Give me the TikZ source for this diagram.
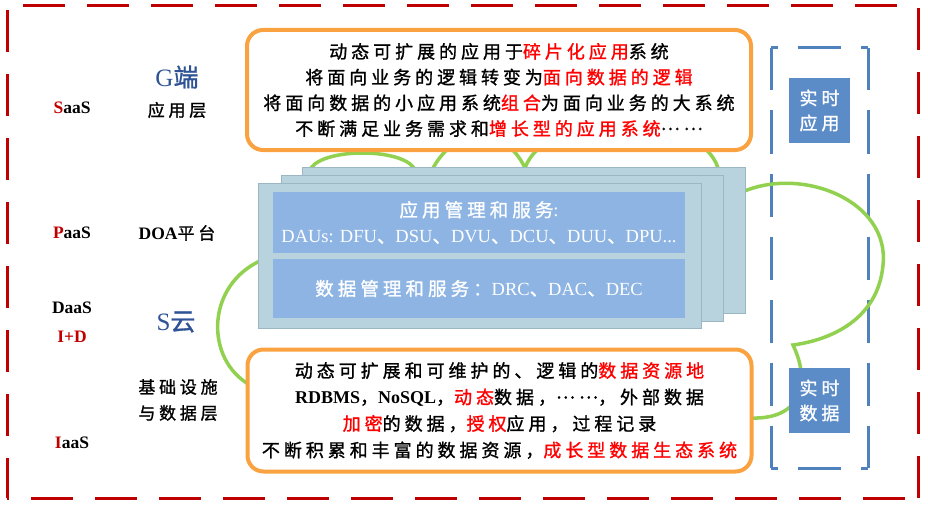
\documentclass[tikz,border=0pt]{standalone}
\usepackage{fontspec}
\setmainfont{Liberation Serif}
\newfontfamily\cjk[LetterSpace=22,FakeBold=1.2]{Noto Sans CJK SC}
\newfontfamily\cjkn[FakeBold=1.2]{Noto Sans CJK SC}
\definecolor{frameRed}{HTML}{C00000}
\definecolor{orangeB}{HTML}{F9A23F}
\definecolor{cloudG}{HTML}{92D050}
\definecolor{stackF}{HTML}{B8D2DE}
\definecolor{stackD}{HTML}{9BB7C4}
\definecolor{innerB}{HTML}{8DB4E3}
\definecolor{panelB}{HTML}{4F81BD}
\definecolor{rtBox}{HTML}{5B8CC8}
\definecolor{titleB}{HTML}{2F5496}
\definecolor{hlred}{HTML}{FF0000}
\newcommand{\redtx}[1]{\textcolor{hlred}{#1}}
\newcommand{\latn}[1]{{\rmfamily\bfseries #1}}
\newcommand{\midell}{\raisebox{0.3em}{……}}
\tikzset{
  reddash/.style={draw=frameRed, line width=3pt, dash pattern=on 42pt off 22pt},
  bluedash/.style={draw=panelB, line width=3pt, dash pattern=on 43pt off 20pt},
  cloud/.style={draw=cloudG, line width=3.5pt},
  obox/.style={draw=orangeB, line width=4pt, rounded corners=16pt, fill=white,
    minimum width=504pt, inner sep=0pt, align=center,
    font=\cjk\fontsize{18}{25.7}\selectfont},
  stackbox/.style={fill=stackF, draw=stackD, line width=1pt, inner sep=0pt},
  innerbox/.style={fill=innerB, inner sep=0pt, text=white, align=center,
    minimum width=412pt},
  rtbox/.style={fill=rtBox, text=white, minimum width=61pt, minimum height=65pt,
    inner sep=0pt, align=center, font=\cjk\fontsize{18}{25}\selectfont},
  lbl/.style={inner sep=0pt, font=\fontsize{17.5}{22}\selectfont\bfseries},
  cjl/.style={inner sep=0pt, align=center, font=\cjk\fontsize{17}{26}\selectfont},
  big/.style={inner sep=0pt, text=titleB, font=\fontsize{25}{30}\selectfont},
}
\begin{document}
\begin{tikzpicture}[x=1pt,y=-1pt]
\useasboundingbox (0,0) rectangle (928,508);
\fill[white] (0,0) rectangle (928,508);

% right dashed panel
\draw[bluedash, dash phase=36pt] (771,48) -- (868,48);
\draw[bluedash, dash phase=36pt] (771,468) -- (868,468);
\draw[bluedash, dash phase=0.5pt] (771,48) -- (771,468);
\draw[bluedash, dash phase=0.5pt] (868,48) -- (868,468);

% green cloud
\draw[cloud] (262,260) .. controls (205,285) and (205,360) .. (250,385);
\draw[cloud] (311,168) .. controls (325,148) and (400,148) .. (414,168);
\draw[cloud] (432,170) .. controls (455,125) and (505,125) .. (525,168);
\draw[cloud] (525,168) .. controls (545,110) and (700,110) .. (718,168);
\draw[cloud] (740,193) .. controls (800,165) and (890,200) .. (883,265)
  .. controls (878,320) and (830,340) .. (793,345)
  .. controls (812,385) and (800,420) .. (750,418);

% stacked layers
\node[stackbox, minimum width=443pt, minimum height=146pt] (layer3) at (523.5,240) {};
\node[stackbox, minimum width=442pt, minimum height=146pt] (layer2) at (502,248) {};
\node[stackbox, minimum width=443pt, minimum height=145pt] (layer1) at (479.5,255.5) {};
\node[innerbox, minimum height=61pt, font=\fontsize{18.5}{26}\selectfont] (appsvc) at (479,222.5)
  {{\cjk 应用管理和服务}:\\DAUs: DFU{\cjkn 、}DSU{\cjkn 、}DVU{\cjkn 、}DCU{\cjkn 、}DUU{\cjkn 、}DPU...};
\node[innerbox, minimum height=59pt, font=\fontsize{18.5}{26}\selectfont] (datasvc) at (479,288.5)
  {{\cjk 数据管理和服务：}DRC{\cjkn 、}DAC{\cjkn 、}DEC};

% orange boxes
\node[obox, minimum height=120pt] (topbox) at (499,90)
  {动态可扩展的应用于\redtx{碎片化应用}系统\\
   将面向业务的逻辑转变为\redtx{面向数据的逻辑}\\
   将面向数据的小应用系统\redtx{组合}为面向业务的大系统\\
   不断满足业务需求和\redtx{增长型的应用系统}\midell};
\node[obox, minimum height=122pt, font=\cjk\fontsize{18}{26.5}\selectfont] (botbox) at (499.5,410.5)
  {动态可扩展和可维护的、逻辑的\redtx{数据资源地}\\
   \latn{RDBMS}，\latn{NoSQL}，\redtx{动态}数据，\midell，外部数据\\
   \redtx{加密}的数据，\redtx{授权}应用，过程记录\\
   不断积累和丰富的数据资源，\redtx{成长型数据生态系统}};

% real-time boxes
\node[rtbox] (rtapp) at (819.5,110.5) {实时\\应用};
\node[rtbox] (rtdata) at (819.5,400.5) {实时\\数据};

% left labels
\node[lbl] (saas) at (72,108) {\textcolor{frameRed}{S}aaS};
\node[lbl] (paas) at (72,233) {\textcolor{frameRed}{P}aaS};
\node[lbl] (daas) at (72,308) {DaaS};
\node[lbl, text=frameRed] (iplusd) at (72,337) {I+D};
\node[lbl] (iaas) at (72,443) {\textcolor{frameRed}{I}aaS};
\node[big] (gend) at (177,77) {G{\cjkn 端}};
\node[cjl] (applayer) at (177,110) {应用层};
\node[lbl] (doa) at (177,233) {DOA{\cjk\mdseries\fontsize{17}{22}\selectfont 平台}};
\node[big] (scloud) at (176,322) {S{\cjkn 云}};
\node[cjl] (infra) at (178,400) {基础设施\\与数据层};

% outer red dashed frame
\draw[reddash, dash phase=48pt] (7,6) -- (918,6);
\draw[reddash, dash phase=40pt] (7,498) -- (918,498);
\draw[reddash, dash phase=60pt] (7,6) -- (7,498);
\draw[reddash, dash phase=62pt] (918,6) -- (918,498);
\end{tikzpicture}
\end{document}
